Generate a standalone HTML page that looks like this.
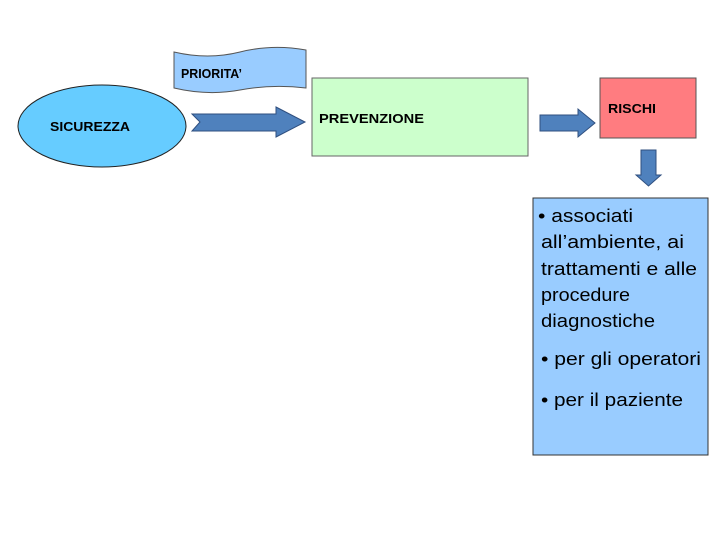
<!DOCTYPE html>
<html><head><meta charset="utf-8"><style>
html,body{margin:0;padding:0;background:#fff;width:720px;height:540px;overflow:hidden}
svg text{font-family:"Liberation Sans",sans-serif;fill:#000}
</style></head><body>
<svg width="720" height="540" viewBox="0 0 720 540" xmlns="http://www.w3.org/2000/svg">
<ellipse cx="102" cy="126" rx="84" ry="41" fill="#66ccff" stroke="#222" stroke-width="1"/>
<text x="50" y="131" font-size="13" font-weight="bold" textLength="80" lengthAdjust="spacingAndGlyphs">SICUREZZA</text>
<path d="M174,52 Q208,60 240,52 Q272,44 306,50 L306,88 Q272,84 240,90 Q208,96 174,88 Z" fill="#99ccff" stroke="#555" stroke-width="1"/>
<text x="181" y="78" font-size="13" font-weight="bold" textLength="61" lengthAdjust="spacingAndGlyphs">PRIORITA’</text>
<polygon points="192,114 276,114 276,107 305,122 276,137 276,131 192,131 200,122" fill="#4f81bd" stroke="#2f4f7f" stroke-width="1"/>
<rect x="312" y="78" width="216" height="78" fill="#ccffcc" stroke="#666" stroke-width="1"/>
<text x="319" y="123" font-size="13" font-weight="bold" textLength="105" lengthAdjust="spacingAndGlyphs">PREVENZIONE</text>
<polygon points="540,115 578,115 578,109 595,123 578,137 578,131 540,131" fill="#4f81bd" stroke="#2f4f7f" stroke-width="1"/>
<rect x="600" y="78" width="96" height="60" fill="#ff7c80" stroke="#555" stroke-width="1"/>
<text x="608" y="113" font-size="13" font-weight="bold" textLength="48" lengthAdjust="spacingAndGlyphs">RISCHI</text>
<polygon points="641,150 656,150 656,175 661,175 648.5,186 636,175 641,175" fill="#4f81bd" stroke="#2f4f7f" stroke-width="1"/>
<rect x="533" y="198" width="175" height="257" fill="#99ccff" stroke="#333" stroke-width="1"/>
<g font-size="18">
<text x="538" y="222" textLength="95" lengthAdjust="spacingAndGlyphs">• associati</text>
<text x="541" y="248" textLength="143" lengthAdjust="spacingAndGlyphs">all’ambiente, ai</text>
<text x="541" y="275" textLength="156" lengthAdjust="spacingAndGlyphs">trattamenti e alle</text>
<text x="541" y="301" textLength="89" lengthAdjust="spacingAndGlyphs">procedure</text>
<text x="541" y="327" textLength="114" lengthAdjust="spacingAndGlyphs">diagnostiche</text>
<text x="541" y="365" textLength="160" lengthAdjust="spacingAndGlyphs">• per gli operatori</text>
<text x="541" y="406" textLength="142" lengthAdjust="spacingAndGlyphs">• per il paziente</text>
</g>
</svg>
</body></html>
